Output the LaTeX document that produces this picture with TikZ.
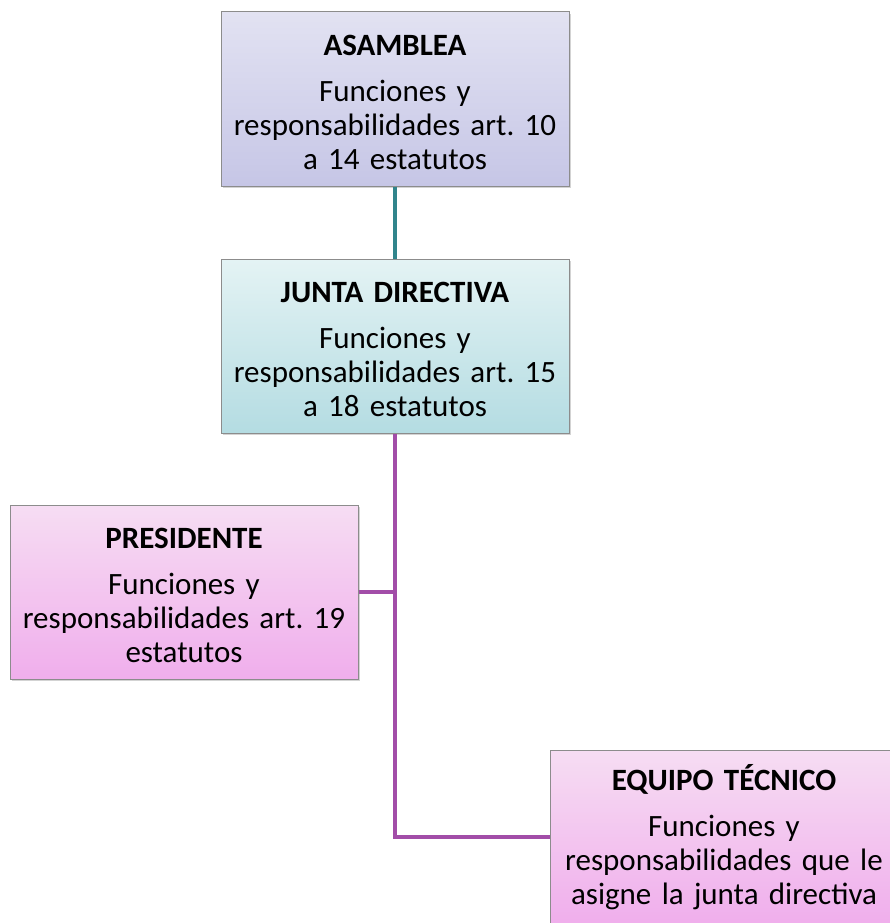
\documentclass[tikz,border=0pt]{standalone}
\usepackage{fontspec}
\setmainfont{Carlito}
\usetikzlibrary{positioning,shadows}
\definecolor{orgborder}{HTML}{8C8C8C}
\definecolor{asamtop}{HTML}{E2E2F2}
\definecolor{asambot}{HTML}{C6C6E6}
\definecolor{juntatop}{HTML}{E4F3F4}
\definecolor{juntabot}{HTML}{B4DCE2}
\definecolor{rosatop}{HTML}{F6DDF3}
\definecolor{rosabot}{HTML}{F0AEEC}
\definecolor{tealline}{HTML}{31858C}
\definecolor{purpline}{HTML}{A24DA8}
\newcommand{\orgtext}[2]{{\fontsize{31}{34}\selectfont\rule{0pt}{27pt}\textbf{#1}}\\[12pt]#2}
\frenchspacing

\begin{document}
\begin{tikzpicture}[
  x=1pt,y=1pt,
  font=\fontsize{31}{34}\selectfont,
  node distance=72pt,
  org/.style={draw=orgborder,line width=1pt,minimum width=348pt,minimum height=174pt,
              text width=346pt,align=center,inner sep=1pt,
              drop shadow={opacity=0.35,shadow xshift=1.5pt,shadow yshift=-2pt}},
  lila/.style={org,top color=asamtop,bottom color=asambot},
  celeste/.style={org,top color=juntatop,bottom color=juntabot},
  rosa/.style={org,top color=rosatop,bottom color=rosabot},
  tlink/.style={tealline,line width=4pt},
  plink/.style={purpline,line width=4pt}
]
\useasboundingbox (0,0) rectangle (890,-923);
\clip (0,0) rectangle (890,-923);
% niveles
\node[lila] (asamblea) at (395,-99)
  {\orgtext{ASAMBLEA}{Funciones y\\ responsabilidades art. 10\\ a 14 estatutos}};
\node[celeste,below=of asamblea] (junta)
  {\orgtext{JUNTA DIRECTIVA}{Funciones y\\ responsabilidades art. 15\\ a 18 estatutos}};
\node[rosa] (presidente) at (184,-592)
  {\orgtext{PRESIDENTE}{Funciones y\\ responsabilidades art. 19\\ estatutos}};
\node[rosa] (equipo) at (724,-837)
  {\orgtext{EQUIPO TÉCNICO}{Funciones y\\ responsabilidades que le\\ asigne la junta directiva}};

% conectores
\draw[tlink] (asamblea) -- (junta);
\draw[plink] (junta.south) |- (equipo.west);
\draw[plink] (presidente.east) -- (presidente.east -| junta.south);
\end{tikzpicture}
\end{document}
